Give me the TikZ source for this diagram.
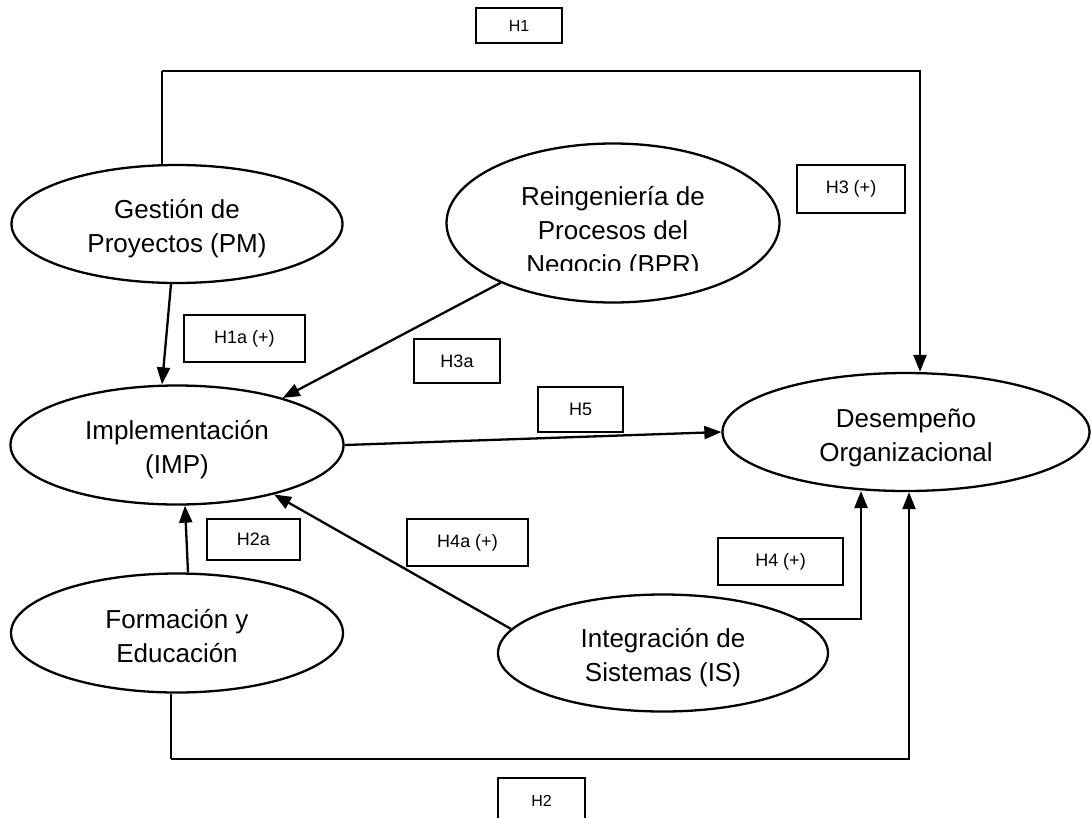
\documentclass[tikz,border=0pt]{standalone}
\usepackage{fontspec}
\setmainfont{Liberation Sans}
\usetikzlibrary{shapes.geometric,arrows.meta}
\begin{document}
\begin{tikzpicture}[x=1pt,y=-1pt,
  construct/.style={ellipse,draw,line width=2.3pt,inner sep=0pt},
  ctext/.style={inner sep=0pt,align=center,font=\fontsize{26}{34}\selectfont},
  hyp/.style={draw,line width=2pt,inner sep=0pt,font=\fontsize{18}{20}\selectfont},
  link/.style={line width=2.3pt,-{Triangle[length=17pt,width=13pt]}},
  lead/.style={line width=1.2pt}]
\useasboundingbox (0,0) rectangle (1091,817);

% constructs
\node[construct,minimum width=331pt,minimum height=118pt] (pm)   at (177,224) {};
\node[construct,minimum width=333pt,minimum height=119pt] (imp)  at (177,445) {};
\node[construct,minimum width=332pt,minimum height=119pt] (form) at (177,633) {};
\node[construct,minimum width=333pt,minimum height=159pt] (bpr)  at (613,223) {};
\node[construct,minimum width=367pt,minimum height=118pt] (des)  at (906,432) {};
\node[construct,minimum width=330pt,minimum height=117pt] (is)   at (663,653) {};

% construct names
\node[ctext] (pmtext)   at (177,229) {Gestión de\\Proyectos (PM)};
\node[ctext] (imptext)  at (177,450) {Implementación\\(IMP)};
\node[ctext] (formtext) at (177,636) {Formación y\\Educación};
\node[ctext] (destext)  at (906,438) {Desempeño\\Organizacional};
\node[ctext] (istext)   at (663,658) {Integración de\\Sistemas (IS)};
% the BPR label is cut off by its text frame
\begin{scope}
  \clip (440,140) rectangle (790,270);
  \node[ctext] (bprtext) at (613,233) {Reingeniería de\\Procesos del\\Negocio (BPR)};
\end{scope}

% hypothesis labels
\node[hyp,minimum width=86pt,minimum height=35pt,font=\fontsize{16}{18}\selectfont] (h1) at (519,25.5) {H1};
\node[hyp,minimum width=121pt,minimum height=47pt] (h1a) at (244.5,338.5) {H1a (+)};
\node[hyp,minimum width=86pt,minimum height=44pt]  (h3a) at (457,361) {H3a};
\node[hyp,minimum width=108pt,minimum height=48pt] (h3)  at (851,189) {H3 (+)};
\node[hyp,minimum width=85pt,minimum height=45pt]  (h5)  at (580.5,409.5) {H5};
\node[hyp,minimum width=93pt,minimum height=41pt]  (h2a) at (253.5,539.5) {H2a};
\node[hyp,minimum width=121pt,minimum height=47pt] (h4a) at (467.5,542.5) {H4a (+)};
\node[hyp,minimum width=125pt,minimum height=47pt] (h4)  at (780.5,561.5) {H4 (+)};
\node[hyp,minimum width=87pt,minimum height=45pt,font=\fontsize{16}{18}\selectfont] (h2) at (541.5,800.5) {H2};

% routing corners
\coordinate (h1c) at (162,71);
\coordinate (h1r) at (920,71);
\coordinate (h2c) at (171,759);
\coordinate (h2r) at (909,759);
\coordinate (h4t) at (861,491);

% H1: PM -> organizational performance
\draw[lead] ([xshift=-15pt]pm.north) -- (h1c);
\draw[link] (h1c) -- (h1r) -- (des.north -| h1r);

% H2: training -> organizational performance
\draw[lead] ([xshift=-6pt]form.south) -- (h2c);
\draw[link] (h2c) -- (h2r) -- (des.south -| h2r);

% H1a, H2a, H3a, H4a: antecedents of implementation
\draw[link] ([xshift=-6pt]pm.south) -- ([xshift=-15pt]imp.north);
\draw[link] ([xshift=11pt]form.north) -- ([xshift=8pt]imp.south);
\draw[link] (bpr.208) -- (imp.24);
\draw[link] (is.171) -- (imp.333);

% H5 and H4
\draw[link] (imp.east) -- (des.west);
\draw[link] (is.14) -| (h4t);
\end{tikzpicture}
\end{document}
